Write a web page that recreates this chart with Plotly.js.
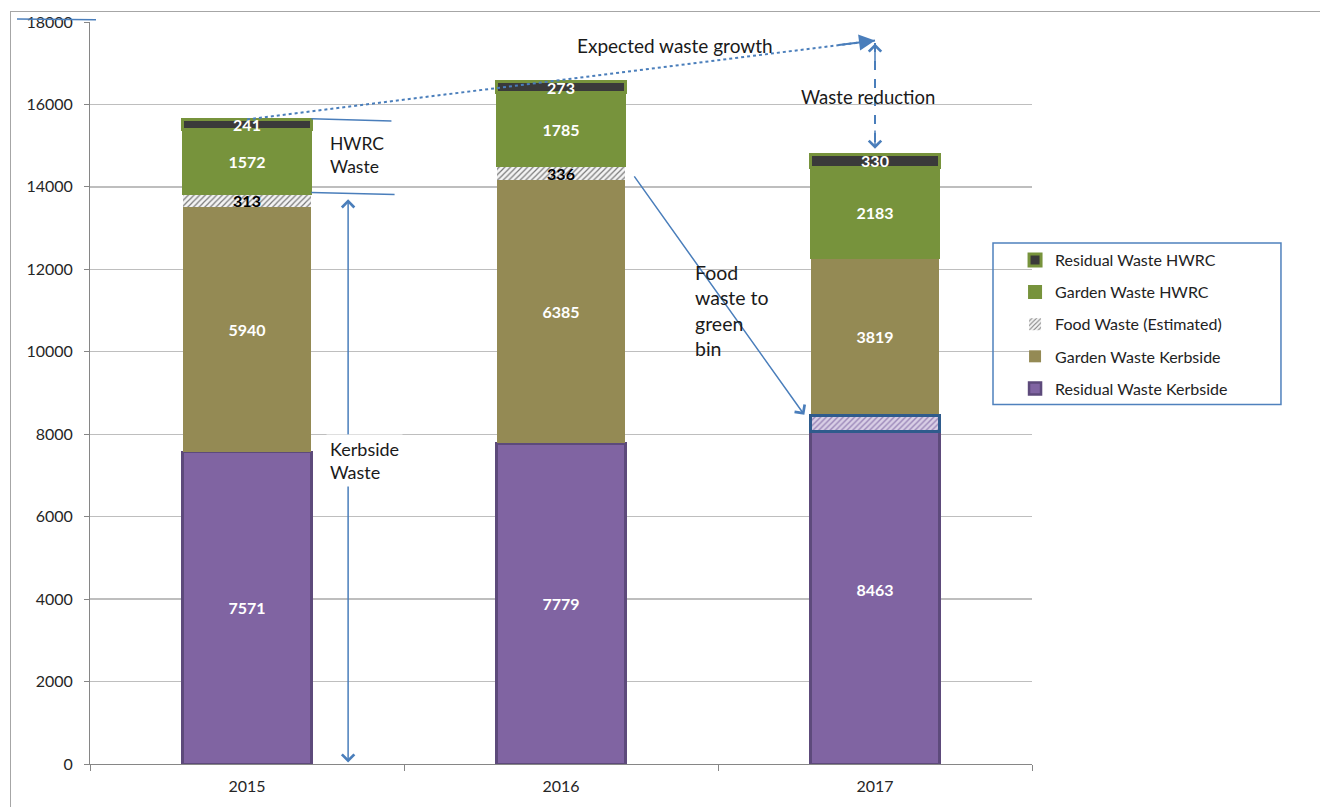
<!DOCTYPE html>
<html><head><meta charset="utf-8">
<script src="https://cdn.plot.ly/plotly-3.0.1.min.js"></script>
<style>
html,body{margin:0;padding:0;background:#fff;}
#frame{position:absolute;left:10px;top:11px;width:1310px;height:796px;border-left:1.5px solid #a6a6a6;border-top:1.5px solid #a6a6a6;}
#chart{position:absolute;left:0;top:0;width:1320px;height:807px;}
</style></head><body>
<div id="frame"></div><div id="chart"></div>
<script>
// ---- data ----
const years = ['2015', '2016', '2017'];
const residualKerbside = [7571, 7779, 8463];
const gardenKerbside = [5940, 6385, 3819];
const foodWaste = [313, 336, null];
const gardenHWRC = [1572, 1785, 2183];
const residualHWRC = [241, 273, 330];
const foodInGreenBin2017 = 400;      // hatched part inside the 2017 residual bar
const expectedWaste2017 = 17550;     // end of the "expected waste growth" arrow

const FONT = 'Lato, "Open Sans", sans-serif';
const BLUE = '#4A7EBB';
const W = 0.41;

function lbl(arr){ return arr.map(v => v == null ? '' : String(v)); }
function sumAt(i){ return [residualKerbside, gardenKerbside, foodWaste, gardenHWRC, residualHWRC]
  .reduce((s,a)=>s+(a[i]||0),0); }
const total2015 = sumAt(0);
const total2017 = sumAt(2);
const kerbsideTop2015 = residualKerbside[0] + gardenKerbside[0] + foodWaste[0];

const common = {type:'bar', x: years, width: W, textposition:'inside', insidetextanchor:'middle',
  textangle:0, hoverinfo:'skip', texttemplate:'%{text}'};
const LBLSIZE = 16;

const traces = [
  Object.assign({}, common, {name:'Residual Waste Kerbside', y: residualKerbside, text: lbl(residualKerbside),
    marker:{color:'#8064A2', line:{color:'#5D4A7B', width:2.5}}, legendrank:5, legendgroup:'e',
    textfont:{color:'#ffffff', size:LBLSIZE, family:FONT, weight:'bold'}}),
  Object.assign({}, common, {name:'Garden Waste Kerbside', y: gardenKerbside, text: lbl(gardenKerbside),
    marker:{color:'#948A54', line:{width:0}}, legendrank:4, legendgroup:'d',
    textfont:{color:'#ffffff', size:LBLSIZE, family:FONT, weight:'bold'}}),
  Object.assign({}, common, {name:'Food Waste (Estimated)', y: foodWaste, text: lbl(foodWaste),
    marker:{color:'#ececec', line:{width:0}, pattern:{shape:'/', fgcolor:'#7a7a7a', bgcolor:'#f4f4f4', size:4, solidity:0.3}},
    legendrank:3, legendgroup:'c',
    textfont:{color:'#000000', size:LBLSIZE, family:FONT, weight:'bold'}}),
  Object.assign({}, common, {name:'Garden Waste HWRC', y: gardenHWRC, text: lbl(gardenHWRC),
    marker:{color:'#77933C', line:{color:'#77933C', width:2}}, legendrank:2, legendgroup:'b',
    textfont:{color:'#ffffff', size:LBLSIZE, family:FONT, weight:'bold'}}),
  Object.assign({}, common, {name:'Residual Waste HWRC', y: residualHWRC, text: lbl(residualHWRC),
    marker:{color:'#3A3A3A', line:{color:'#77933C', width:3}}, legendrank:1, legendgroup:'a',
    textfont:{color:'#ffffff', size:LBLSIZE, family:FONT, weight:'bold'}}),
  {type:'bar', x:['2017'], y:[foodInGreenBin2017], base:[residualKerbside[2]-foodInGreenBin2017], width:W,
    marker:{color:'#d6cae4', line:{color:'#2F5B8C', width:3},
      pattern:{shape:'/', fgcolor:'#9a86b8', bgcolor:'#d9cfe6', size:4, solidity:0.35}},
    showlegend:false, hoverinfo:'skip'}
];

function f(size){ return {family:FONT, size:size, color:'#1a1a1a'}; }
const annotations = [
  // kerbside double arrow
  {x:0.322, y:13700, ax:0.322, ay:0, xref:'x', yref:'y', axref:'x', ayref:'y', text:'', showarrow:true,
   arrowside:'end+start', arrowhead:4, startarrowhead:4, arrowsize:1.6, startarrowsize:1.6, arrowwidth:1.5, arrowcolor:BLUE},
  // food waste arrow
  {x:1.775, y:8470, ax:1.23, ay:14290, xref:'x', yref:'y', axref:'x', ayref:'y', text:'', showarrow:true,
   arrowhead:4, arrowsize:1.6, arrowwidth:1.5, arrowcolor:BLUE},
  // growth arrowhead
  {x:2, y:expectedWaste2017, ax:1.88, ay:expectedWaste2017-(expectedWaste2017-total2015)*0.06, xref:'x', yref:'y', axref:'x', ayref:'y',
   text:'', showarrow:true, arrowhead:2, arrowsize:1.6, arrowwidth:2, arrowcolor:BLUE},
  // reduction arrowheads
  {x:2, y:17480, ax:2, ay:17000, xref:'x', yref:'y', axref:'x', ayref:'y', text:'', showarrow:true,
   arrowhead:4, arrowsize:1.6, arrowwidth:1.5, arrowcolor:BLUE},
  {x:2, y:total2017+130, ax:2, ay:total2017+610, xref:'x', yref:'y', axref:'x', ayref:'y', text:'', showarrow:true,
   arrowhead:4, arrowsize:1.6, arrowwidth:1.5, arrowcolor:BLUE},
  // texts
  {x:1.363, y:17440, xref:'x', yref:'y', text:'Expected waste growth', showarrow:false, xanchor:'center', font:f(19)},
  {x:1.978, y:16190, xref:'x', yref:'y', text:'Waste reduction', showarrow:false, xanchor:'center', font:f(18.5)},
  {x:0.259, y:14780, xref:'x', yref:'y', text:'HWRC<br>Waste', showarrow:false, xanchor:'left', align:'left', font:f(17.5)},
  {x:0.25, y:7360, xref:'x', yref:'y', text:'Kerbside<br>Waste', showarrow:false, xanchor:'left', align:'left', font:f(18),
   bgcolor:'#ffffff', borderpad:3},
  {x:1.42, y:11000, xref:'x', yref:'y', text:'Food<br>waste to<br>green<br>bin', showarrow:false, xanchor:'left', align:'left', font:f(19.5)}
];

const shapes = [
  {type:'line', xref:'x', yref:'y', x0:0, y0:total2015, x1:2, y1:expectedWaste2017, line:{color:BLUE, width:2, dash:'dot'}},
  {type:'line', xref:'x', yref:'y', x0:2, y0:expectedWaste2017-60, x1:2, y1:total2017+150, line:{color:BLUE, width:2, dash:'dash'}},
  {type:'line', xref:'x', yref:'y', x0:0.205, y0:15650, x1:0.46, y1:15600, line:{color:BLUE, width:1.5}},
  {type:'line', xref:'x', yref:'y', x0:0.205, y0:kerbsideTop2015+40, x1:0.47, y1:kerbsideTop2015-10, line:{color:BLUE, width:1.5}},
  {type:'line', xref:'paper', yref:'paper', x0:-0.0775, y0:1.004, x1:0.0064, y1:1.003, line:{color:BLUE, width:1.5}},
  {type:'rect', xref:'paper', yref:'paper', x0:0.9586, x1:1.2643, y0:0.4846, y1:0.7023, line:{color:'#4F81BD', width:1.5}}
];

const layout = {
  width:1320, height:807,
  margin:{l:90, r:288, t:22, b:43},
  paper_bgcolor:'rgba(0,0,0,0)', plot_bgcolor:'rgba(0,0,0,0)',
  barmode:'stack',
  font:{family:FONT, size:16, color:'#262626'},
  uniformtext:{mode:'show', minsize:LBLSIZE},
  xaxis:{type:'category', range:[-0.5,2.5], showline:true, linecolor:'#868686', linewidth:1,
    ticks:'outside', tickson:'boundaries', ticklen:6, tickcolor:'#868686', showgrid:false,
    ticklabelstandoff:8,
    tickfont:{family:FONT, size:16, color:'#262626'}},
  yaxis:{range:[0,18000], dtick:2000, tickformat:'d', showgrid:true, gridcolor:'#BEBEBE', gridwidth:1.3,
    showline:true, linecolor:'#868686', linewidth:1, ticks:'outside', ticklen:5, tickcolor:'#868686',
    zeroline:false, tickfont:{family:FONT, size:16, color:'#262626'}, ticklabelstandoff:8},
  showlegend:true,
  legend:{x:0.982, y:0.702, xanchor:'left', yanchor:'top', bgcolor:'rgba(0,0,0,0)', borderwidth:0,
    font:{family:FONT, size:16, color:'#222'}, traceorder:'grouped', tracegroupgap:8.3},
  annotations: annotations,
  shapes: shapes
};

Plotly.newPlot('chart', traces, layout, {staticPlot:true, displayModeBar:false});
</script>
</body></html>
